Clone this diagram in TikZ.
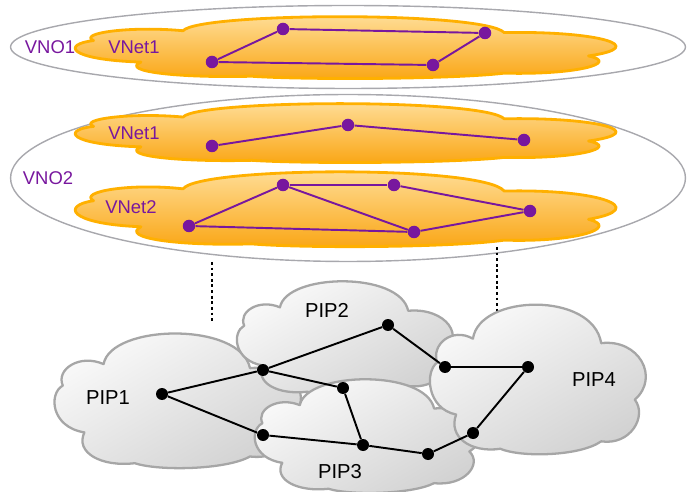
\documentclass[tikz,border=0pt]{standalone}
\usepackage{fontspec}
\setmainfont{Liberation Sans}
\usetikzlibrary{shapes.geometric}
\definecolor{vp}{rgb}{.47,.09,.62}
\definecolor{og}{rgb}{1,.69,0}
\definecolor{ol}{rgb}{1,.88,.62}
\definecolor{od}{rgb}{.98,.65,.08}
\definecolor{cg}{rgb}{.65,.65,.65}
\definecolor{eg}{rgb}{.66,.66,.68}

% cloud outline in a 100x100 box, y pointing down
\newcommand{\pcloud}[5]{%
  \pgfmathsetmacro\cw{#4*0.0002}%
  \pgfmathsetmacro\ch{#5*0.0002}%
  \begin{scope}[shift={(#2,#3)}, x=\cw cm, y=-\ch cm]
    \path[#1] (2,40)
      .. controls (-1,28) and (9,16) .. (19,24)
      .. controls (22,-6) and (76,-8) .. (80,27)
      .. controls (98,24) and (108,50) .. (96,65)
      .. controls (102,76) and (94,96) .. (80,93)
      .. controls (70,103) and (42,104) .. (32,98)
      .. controls (18,101) and (7,90) .. (11,75)
      .. controls (-3,71) and (-4,46) .. (2,40) -- cycle;
  \end{scope}}

\begin{document}
\begin{tikzpicture}[
    x=0.02cm, y=-0.02cm,
    vno/.style={ellipse, draw=eg, line width=.8pt, inner sep=0pt},
    vnet/.style={draw=og, line width=1.6pt, line join=round, top color=ol, bottom color=od},
    pip/.style={draw=cg, line width=1.3pt, line join=round,
                top color=gray!3, bottom color=gray!36, shading angle=30},
    vnode/.style={circle, fill=vp, minimum size=.25cm, inner sep=0pt},
    pnode/.style={circle, fill=black, minimum size=.24cm, inner sep=0pt},
    vlink/.style={vp, line width=1.1pt},
    plink/.style={black, line width=1.1pt}]

      \useasboundingbox (0,0) rectangle (688,492);

      % VNO1
      \node[vno, minimum width=13.5cm, minimum height=1.66cm] (vno1) at (348,47) {};
      \pcloud{vnet}{83}{16}{531}{62}

      % VNO2
      \node[vno, minimum width=13.5cm, minimum height=3.34cm] (vno2) at (348,178) {};
      \pcloud{vnet}{83}{103}{531}{59}
      \pcloud{vnet}{83}{171}{531}{75}

      {\fontsize{10.5}{12}\selectfont
      \node[text=vp] (l1) at (50,47) {VNO1};
      \node[text=vp] (l2) at (48,178) {VNO2};
      \node[text=vp] (l11) at (134,47) {VNet1};
      \node[text=vp] (l21) at (134,133) {VNet1};
      \node[text=vp] (l22) at (131,207) {VNet2};
      }

      \node[vnode] (a1) at (283,29) {};
      \node[vnode] (a2) at (485,33) {};
      \node[vnode] (a3) at (433,65) {};
      \node[vnode] (a4) at (212,62) {};

      \node[vnode] (b1) at (212,146) {};
      \node[vnode] (b2) at (348,125) {};
      \node[vnode] (b3) at (524,140) {};

      \node[vnode] (c1) at (283,185) {};
      \node[vnode] (c2) at (394,185) {};
      \node[vnode] (c3) at (530,211) {};
      \node[vnode] (c4) at (414,232) {};
      \node[vnode] (c5) at (189,226) {};

      \foreach \s/\t in {a1/a2, a2/a3, a3/a4, a4/a1, b1/b2, b2/b3,
                         c1/c2, c2/c3, c3/c4, c4/c1, c1/c5, c5/c4}
        \draw[vlink] (\s) -- (\t);

      % dotted mapping
      \coordinate (d1) at (212,262);
      \coordinate (d2) at (212,323);
      \coordinate (d3) at (497,247);
      \coordinate (d4) at (497,317);
      \draw[line width=1.6pt, dash pattern=on 1.6pt off 1.6pt] (d1) -- (d2);
      \draw[line width=1.6pt, dash pattern=on 1.6pt off 1.6pt] (d3) -- (d4);

      % PIPs
      \pcloud{pip}{58}{332}{242}{135}
      \pcloud{pip}{240}{280}{212}{115}
      \pcloud{pip}{258}{378}{222}{114}
      \pcloud{pip}{433}{303}{212}{150}

      {\fontsize{11.5}{13}\selectfont
      \node (t1) at (108,398) {PIP1};
      \node (t2) at (327,310) {PIP2};
      \node (t3) at (340,472) {PIP3};
      \node (t4) at (594,380) {PIP4};
      }

      \node[pnode] (p1) at (162,394) {};
      \node[pnode] (p2) at (263,370) {};
      \node[pnode] (p3) at (388,325) {};
      \node[pnode] (p4) at (445,367) {};
      \node[pnode] (p5) at (528,367) {};
      \node[pnode] (p6) at (343,388) {};
      \node[pnode] (p7) at (263,435) {};
      \node[pnode] (p8) at (363,445) {};
      \node[pnode] (p9) at (428,454) {};
      \node[pnode] (p10) at (473,433) {};

      \foreach \s/\t in {p1/p2, p1/p7, p2/p3, p2/p6, p6/p8, p7/p8,
                         p8/p9, p9/p10, p10/p5, p5/p4, p4/p3}
        \draw[plink] (\s) -- (\t);

    \end{tikzpicture}
\end{document}
